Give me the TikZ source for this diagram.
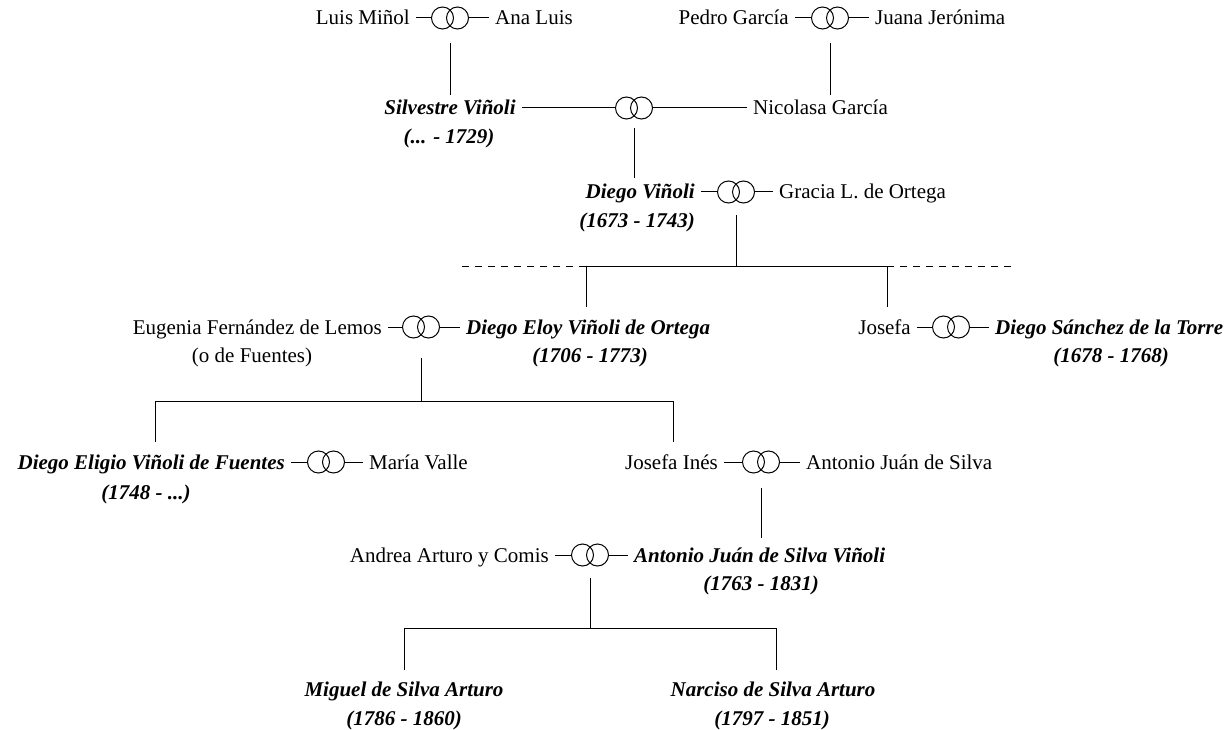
\documentclass[tikz,border=0pt]{standalone}
\usepackage{fontspec}
\setmainfont{Liberation Serif}
\newcommand\fsz{\fontsize{21}{25}\selectfont}
\begin{document}
\begin{tikzpicture}[x=1pt,y=-1pt,
  lw/.style={line width=1pt},
  nm/.style={inner xsep=6pt, inner ysep=0pt, text height=14pt, text depth=0pt, font=\fsz},
  bn/.style={nm, font=\fsz\bfseries\itshape},
  ring/.style={minimum width=37pt, minimum height=22pt, inner sep=0pt, outer sep=0pt},
  dsh/.style={lw, dash pattern=on 7pt off 6pt},
]
\useasboundingbox (0,0) rectangle (1228,730);
% row 1
\node[nm, anchor=east] (LM) at (416,18) {Luis Miñol};
\node[ring] (R1) at (450,18) {};
\node[nm, anchor=west] (AL) at (489,18) {Ana Luis};
\node[nm, anchor=east] (PG) at (795,18) {Pedro García};
\node[ring] (R2) at (830,18) {};
\node[nm, anchor=west] (JJ) at (869,18) {Juana Jerónima};
% row 2
\node[bn] (SV) at (450,108) {Silvestre Viñoli};
\node[bn] (SVd) at (449,137) {(... - 1729)};
\node[ring] (R3) at (634,108) {};
\node[nm, anchor=west] (NG) at (747,108) {Nicolasa García};
% row 3
\node[bn, anchor=east] (DV) at (701,192) {Diego Viñoli};
\node[bn] (DVd) at (637,220) {(1673 - 1743)};
\node[ring] (R4) at (736,192) {};
\node[nm, anchor=west] (GO) at (773,192) {Gracia L. de Ortega};
% row 4
\node[nm, anchor=east] (EF) at (388,327) {Eugenia Fernández de Lemos};
\node[nm] (EFd) at (252,355) {(o de Fuentes)};
\node[ring] (R5) at (421,327) {};
\node[bn, anchor=west] (DE) at (460,327) {Diego Eloy Viñoli de Ortega};
\node[bn] (DEd) at (590,355) {(1706 - 1773)};
\node[nm, anchor=east] (JO) at (917,327) {Josefa};
\node[ring] (R6) at (951,327) {};
\node[bn, anchor=west] (DS) at (989,327) {Diego Sánchez de la Torre};
\node[bn] (DSd) at (1111,355) {(1678 - 1768)};
% row 5
\node[bn, anchor=east] (DG) at (291,462) {Diego Eligio Viñoli de Fuentes};
\node[bn] (DGd) at (146,492) {(1748 - ...)};
\node[ring] (R7) at (326,462) {};
\node[nm, anchor=west] (MV) at (363,462) {María Valle};
\node[nm, anchor=east] (JI) at (724,462) {Josefa Inés};
\node[ring] (R8) at (761,462) {};
\node[nm, anchor=west] (AS) at (800,462) {Antonio Juán de Silva};
% row 6
\node[nm, anchor=east] (AA) at (555,555) {Andrea Arturo y Comis};
\node[ring] (R9) at (590,555) {};
\node[bn, anchor=west] (AV) at (628,555) {Antonio Juán de Silva Viñoli};
\node[bn] (AVd) at (761,583) {(1763 - 1831)};
% row 7
\node[bn] (MS) at (404,689) {Miguel de Silva Arturo};
\node[bn] (MSd) at (404,718) {(1786 - 1860)};
\node[bn] (NS) at (773,689) {Narciso de Silva Arturo};
\node[bn] (NSd) at (772,718) {(1797 - 1851)};
% rings
\foreach \r in {R1,R2,R3,R4,R5,R6,R7,R8,R9}{
  \draw[lw] ([xshift=-7.5pt]\r.center) circle[radius=11pt];
  \draw[lw] ([xshift=7.5pt]\r.center) circle[radius=11pt];
}
% marriage dashes
\draw[lw] (LM.east) -- (R1.west) (R1.east) -- (AL.west);
\draw[lw] (PG.east) -- (R2.west) (R2.east) -- (JJ.west);
\draw[lw] (SV.east) -- (R3.west) (R3.east) -- (NG.west);
\draw[lw] (DV.east) -- (R4.west) (R4.east) -- (GO.west);
\draw[lw] (EF.east) -- (R5.west) (R5.east) -- (DE.west);
\draw[lw] (JO.east) -- (R6.west) (R6.east) -- (DS.west);
\draw[lw] (DG.east) -- (R7.west) (R7.east) -- (MV.west);
\draw[lw] (JI.east) -- (R8.west) (R8.east) -- (AS.west);
\draw[lw] (AA.east) -- (R9.west) (R9.east) -- (AV.west);
% descent lines
\draw[lw, shorten <=14pt, shorten >=6pt] (R1.south) -- (R1.south |- SV.north);
\draw[lw, shorten <=14pt, shorten >=6pt] (R2.south) -- (R2.south |- NG.north);
\draw[lw, shorten <=9pt, shorten >=7pt] (R3.south) -- (R3.south |- DV.north);
\coordinate (J1) at (736,266);
\coordinate (J1L) at (586,266);
\coordinate (J1R) at (887,266);
\coordinate (D1L) at (457,266);
\coordinate (D1R) at (1014,266);
\draw[lw, shorten <=12pt] (R4.south) -- (J1);
\draw[lw] (J1L) -- (J1R);
\draw[dsh] (J1L) -- (D1L);
\draw[dsh] (J1R) -- (D1R);
\draw[lw, shorten >=13pt] (J1L) -- (J1L |- DE.north);
\draw[lw, shorten >=13pt] (J1R) -- (J1R |- JO.north);
\coordinate (J2) at (421,401);
\coordinate (J2L) at (155,401);
\coordinate (J2R) at (673,401);
\draw[lw, shorten <=20pt] (R5.south) -- (J2);
\draw[lw] (J2L) -- (J2R);
\draw[lw, shorten >=13pt] (J2L) -- (J2L |- DG.north);
\draw[lw, shorten >=13pt] (J2R) -- (J2R |- JI.north);
\draw[lw, shorten <=15pt, shorten >=10pt] (R8.south) -- (R8.south |- AV.north);
\coordinate (J3) at (590,628);
\coordinate (J3L) at (404,628);
\coordinate (J3R) at (776,628);
\draw[lw, shorten <=12pt] (R9.south) -- (J3);
\draw[lw] (J3L) -- (J3R);
\draw[lw, shorten >=12pt] (J3L) -- (J3L |- MS.north);
\draw[lw, shorten >=12pt] (J3R) -- (J3R |- NS.north);
\end{tikzpicture}
\end{document}
